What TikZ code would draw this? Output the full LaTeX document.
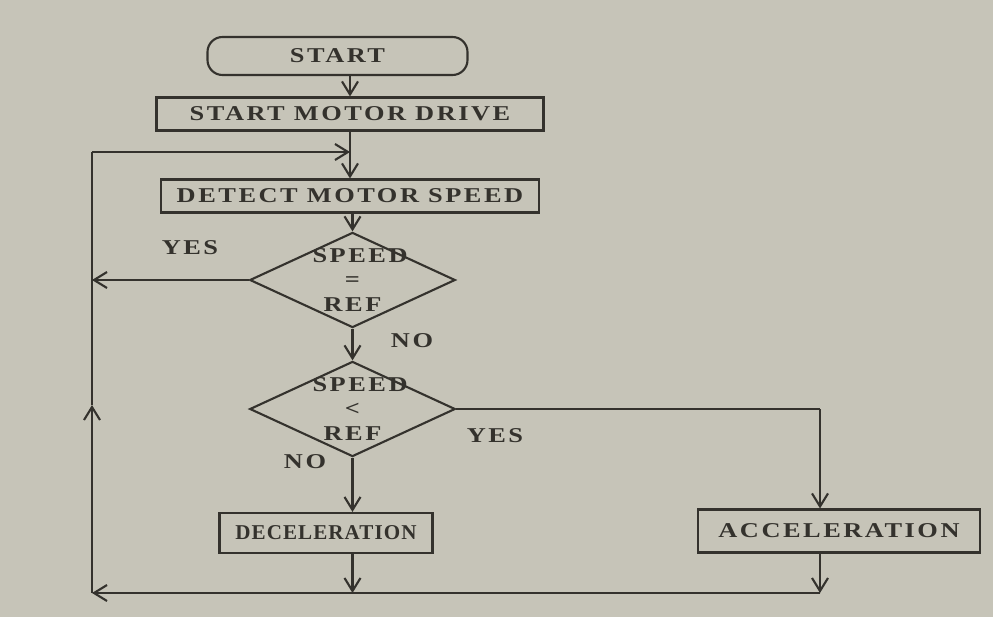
\documentclass[tikz,border=0pt]{standalone}
\usepackage{fontspec}
\setmainfont{Liberation Serif}
\newfontfamily\flowfont[FakeStretch=1.25,LetterSpace=12]{Liberation Serif Bold}
\newfontfamily\tightfont[LetterSpace=5]{Liberation Serif Bold}
\usepackage{xcolor}
\usepackage{tikz}
\usetikzlibrary{positioning,arrows.meta,shapes.geometric,calc}
\definecolor{paper}{RGB}{198,196,184}
\definecolor{ink}{RGB}{52,50,45}
\tikzset{
  term/.style    = {rectangle, rounded corners=3mm, draw=ink, line width=1.2pt,
                    minimum width=52mm, minimum height=7.6mm, align=center,
                    font=\flowfont\large, text=ink},
  proc/.style    = {rectangle, draw=ink, line width=1.2pt, minimum height=6.6mm,
                    align=center, font=\flowfont\large, text=ink},
  decision/.style= {diamond, aspect=2.16, draw=ink, line width=1.2pt,
                    text width=16mm, inner xsep=1.5mm, inner ysep=-1.2mm,
                    align=center, font=\flowfont\large, text=ink},
  lbl/.style     = {font=\flowfont\large, text=ink},
  arr/.style     = {-{Straight Barb[length=2.6mm,width=3.2mm]}, line width=1.2pt, draw=ink},
  ln/.style      = {line width=1.2pt, draw=ink},
}

\begin{document}
\begin{tikzpicture}
  \useasboundingbox (0,0) rectangle (19.86,12.34);
  \fill[paper] (0,0) rectangle (19.86,12.34);

  \node[term] (start) at (6.75,11.22) {START};
  \node[proc,minimum width=77.4mm] (drive) at (7.0,10.06) {START MOTOR DRIVE};
  \node[proc,minimum width=75.6mm] (detect) at (7.0,8.42) {DETECT MOTOR SPEED};
  \node[decision] (eq) at (7.05,6.74) {SPEED\\=\\REF};
  \node[decision] (lt) at (7.05,4.16) {SPEED\\<\\REF};
  \node[proc,minimum width=42.6mm,minimum height=8mm,font=\tightfont\large] (dec) at (6.52,1.68) {DECELERATION};
  \node[proc,minimum width=56.4mm,minimum height=8.6mm] (acc) at (16.78,1.72) {ACCELERATION};

  % loop corners
  \coordinate (loopb) at (1.84,0.48);
  \coordinate (loopm) at (1.84,4.24);
  \coordinate (loopt) at (1.84,9.30);
  \coordinate (join) at (7.0,9.30);
  \coordinate (accin) at (16.4,4.2);

  \node[lbl] (yes1) at (3.8,7.38) {YES};
  \node[lbl] (no1) at (8.24,5.52) {NO};
  \node[lbl] (yes2) at (9.9,3.62) {YES};
  \node[lbl] (no2) at (6.1,3.1) {NO};

  \draw[arr] (start.south -| drive.north) -- (drive.north);
  \draw[arr] (drive) -- (detect);
  \draw[arr] (detect.south -| eq.north) -- (eq.north);
  \draw[arr] (eq) -- (lt);
  \draw[arr] (eq.west) -- (eq.west -| loopt);
  \draw[ln] (lt.east) -- (lt.east -| accin);
  \draw[arr] (lt.east -| accin) -- (accin |- acc.north);
  \draw[arr] (lt.south) -- (lt.south |- dec.north);
  \draw[arr] (lt.south |- dec.south) -- (lt.south |- loopb);
  \draw[arr] (accin |- acc.south) -- (accin |- loopb);
  \draw[arr] (accin |- loopb) -- (loopb);
  \draw[arr] (loopb) -- (loopm);
  \draw[ln] (loopm) -- (loopt);
  \draw[arr] (loopt) -- (join);
\end{tikzpicture}
\end{document}
